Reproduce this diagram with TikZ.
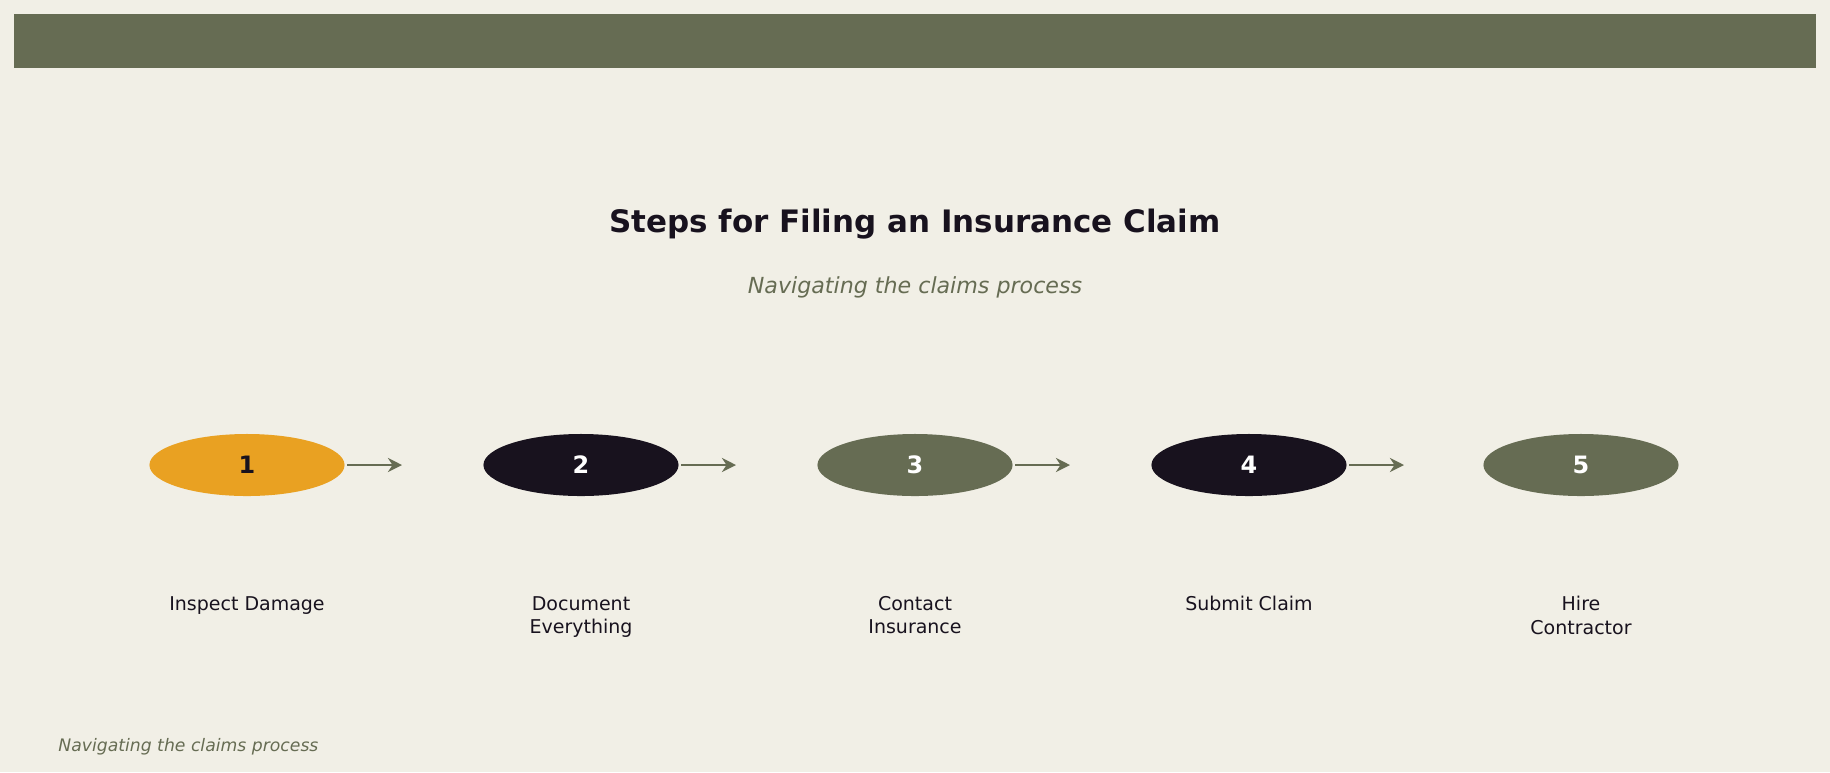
\documentclass[tikz,border=0pt]{standalone}
\usepackage{fontspec}
\setmainfont{DejaVu Sans}
\usetikzlibrary{positioning}
\usetikzlibrary{shapes.geometric}
\usetikzlibrary{arrows.meta}
\definecolor{bgcol}{HTML}{F1EFE6}
\definecolor{olive}{HTML}{666C53}
\definecolor{ink}{HTML}{18121E}
\definecolor{amber}{HTML}{E9A122}

\begin{document}
\begin{tikzpicture}[x=0.01cm,y=-0.01cm,>={Stealth[length=4pt,width=4pt]},
		step node/.style={ellipse,minimum width=1.95cm,minimum height=0.62cm,inner sep=0pt,font=\fontsize{6.8}{8}\selectfont\bfseries},
		label node/.style={font=\fontsize{5.4}{6.6}\selectfont,text=ink,align=center,anchor=north},
		link/.style={->,draw=olive,line width=0.8pt}]
		
		\fill[bgcol] (0,0) rectangle (1830,772);
		\useasboundingbox (0,0) rectangle (1830,772);
		\fill[olive] (14,14) rectangle (1816,68);
		
		\node[font=\fontsize{8.8}{10}\selectfont\bfseries,text=ink] (title) at (915,224) {Steps for Filing an Insurance Claim};
		\node[font=\fontsize{6.3}{8}\selectfont\itshape,text=olive] (subtitle) at (915,287) {Navigating the claims process};
		
		\node[step node,fill=amber,text=ink] (s1) at (247,465) {1};
		\node[step node,fill=ink,text=white] (s2) at (581,465) {2};
		\node[step node,fill=olive,text=white] (s3) at (915,465) {3};
		\node[step node,fill=ink,text=white] (s4) at (1249,465) {4};
		\node[step node,fill=olive,text=white] (s5) at (1581,465) {5};
		
		\foreach \i/\x in {1/347,2/681,3/1015,4/1349}{
			\coordinate (a\i) at (\x,465);
			\coordinate (b\i) at (\x+55,465);
			\draw[link] (a\i) -- (b\i);
		}
		
		\node[label node] (l1) at (247,584) {Inspect Damage};
		\node[label node] (l2) at (581,584) {Document\\Everything};
		\node[label node] (l3) at (915,584) {Contact\\Insurance};
		\node[label node] (l4) at (1249,584) {Submit Claim};
		\node[label node] (l5) at (1581,584) {Hire\\Contractor};
		
		\node[font=\fontsize{4.9}{6}\selectfont\itshape,text=olive,anchor=west] (footer) at (46,747) {Navigating the claims process};
\end{tikzpicture}
\end{document}
